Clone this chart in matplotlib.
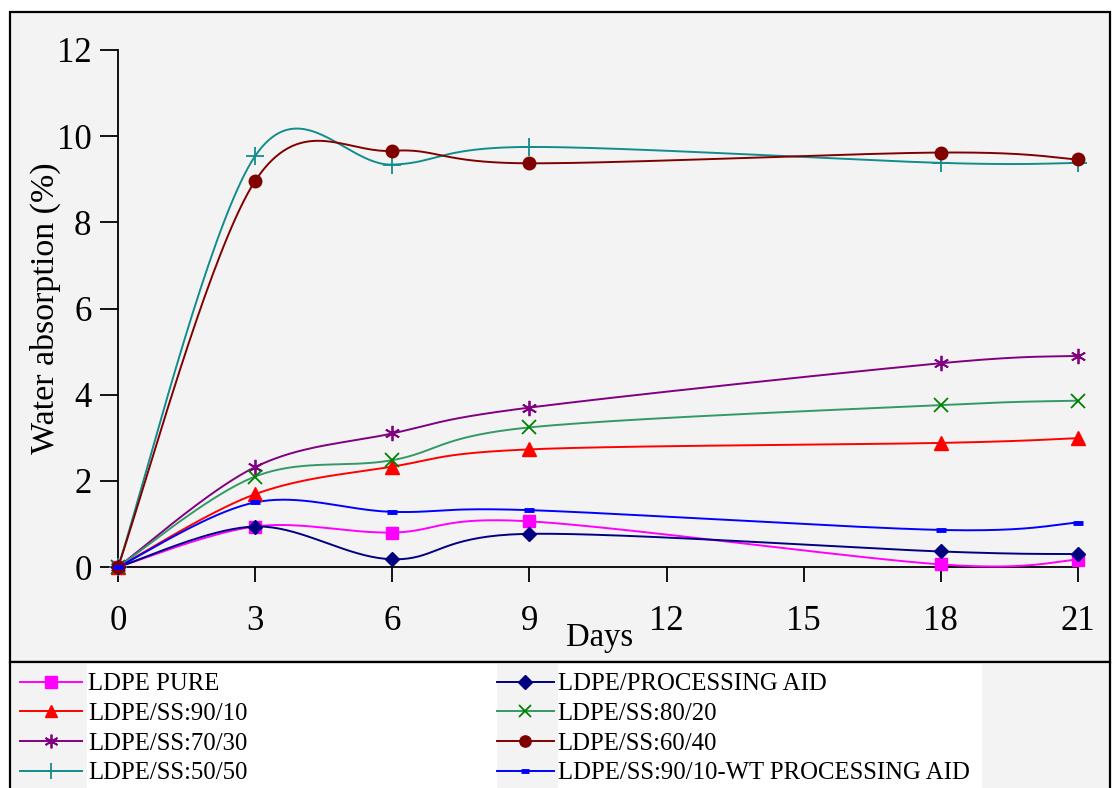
import numpy as np
import matplotlib
matplotlib.use("Agg")
import matplotlib.pyplot as plt
from matplotlib.patches import Rectangle
from matplotlib.lines import Line2D

# ---------------- data ----------------
days = [0, 3, 6, 9, 18, 21]
x_ticks = [0, 3, 6, 9, 12, 15, 18, 21]
y_ticks = [0, 2, 4, 6, 8, 10, 12]

ldpe_pure = [0.0, 0.94, 0.80, 1.06, 0.06, 0.17]
ss_90_10 = [0.0, 1.69, 2.33, 2.73, 2.88, 2.99]
ss_70_30 = [0.0, 2.32, 3.10, 3.70, 4.73, 4.90]
ss_50_50 = [0.0, 9.54, 9.34, 9.75, 9.38, 9.38]
proc_aid = [0.0, 0.94, 0.18, 0.77, 0.36, 0.30]
ss_80_20 = [0.0, 2.10, 2.48, 3.24, 3.76, 3.86]
ss_60_40 = [0.0, 8.96, 9.66, 9.37, 9.62, 9.46]
ss_90_10_wt = [0.0, 1.50, 1.28, 1.32, 0.86, 1.03]

labels = ["LDPE PURE", "LDPE/SS:90/10", "LDPE/SS:70/30", "LDPE/SS:50/50",
          "LDPE/PROCESSING AID", "LDPE/SS:80/20", "LDPE/SS:60/40",
          "LDPE/SS:90/10-WT PROCESSING AID"]
series = [ldpe_pure, ss_90_10, ss_70_30, ss_50_50,
          proc_aid, ss_80_20, ss_60_40, ss_90_10_wt]

# ---------------- style ----------------
W, H = 1112, 788
SERIF = "Liberation Serif"
styles = [
    dict(color="#ff00ff", marker="s", ms=9, mfc="#ff00ff", mec="#ff00ff"),
    dict(color="#ff0000", marker="^", ms=10, mfc="#ff0000", mec="#ff0000"),
    dict(color="#800080", marker=(6, 2, 0), ms=11, mfc="#800080", mec="#800080", mew=1.3),
    dict(color="#128c8c", marker="+", ms=13, mfc="#128c8c", mec="#128c8c", mew=1.3),
    dict(color="#000080", marker="D", ms=7.5, mfc="#000080", mec="#000080"),
    dict(color="#339966", marker="x", ms=10, mfc="#008000", mec="#008000", mew=1.3),
    dict(color="#800000", marker="o", ms=9, mfc="#800000", mec="#800000"),
    dict(color="#0000ff", marker="_", ms=7, mfc="#0000ff", mec="#0000ff", mew=3.5),
]

def fx(px):
    return px / W

def fy(py):
    return 1 - py / H

fig = plt.figure(figsize=(W / 100, H / 100), dpi=100, facecolor="white")

# chart area frame
fig.patches.append(Rectangle((fx(10), fy(662)), fx(1110) - fx(10), fy(12) - fy(662),
                             transform=fig.transFigure, facecolor="#f3f3f3",
                             edgecolor="black", lw=1.6, zorder=-3))
# legend area frame
fig.patches.append(Rectangle((fx(10), fy(800)), fx(1110) - fx(10), fy(662) - fy(800),
                             transform=fig.transFigure, facecolor="#f3f3f3",
                             edgecolor="black", lw=1.6, zorder=-3))
# white backgrounds behind legend texts
fig.patches.append(Rectangle((fx(87), fy(788)), fx(497) - fx(87), fy(664) - fy(788),
                             transform=fig.transFigure, facecolor="white",
                             edgecolor="none", zorder=-2))
fig.patches.append(Rectangle((fx(558), fy(788)), fx(982) - fx(558), fy(664) - fy(788),
                             transform=fig.transFigure, facecolor="white",
                             edgecolor="none", zorder=-2))

ax = fig.add_axes([fx(118), fy(567), fx(1078) - fx(118), fy(50) - fy(567)])
ax.set_zorder(2)
ax.patch.set_visible(False)
ax.set_xlim(0, 21)
ax.set_ylim(0, 12)
ax.set_xticks(x_ticks)
ax.set_yticks(y_ticks)
for s in ["top", "right"]:
    ax.spines[s].set_visible(False)
for s in ["left", "bottom"]:
    ax.spines[s].set_linewidth(1.3)
    ax.spines[s].set_color("black")
ax.tick_params(axis="y", direction="out", length=13, width=1.3, pad=6,
               labelsize=25)
ax.tick_params(axis="x", direction="out", length=11, width=1.3, pad=16,
               labelsize=25)
for lab in ax.get_xticklabels() + ax.get_yticklabels():
    lab.set_fontfamily(SERIF)


def smooth(ax, x, y, n=40):
    pts = ax.transData.transform(np.column_stack([x, y]))
    P = np.vstack([pts[0], pts, pts[-1]])
    out = []
    t = np.linspace(0, 1, n)[:, None]
    for i in range(1, len(P) - 2):
        p0, p1, p2, p3 = P[i - 1], P[i], P[i + 1], P[i + 2]
        c1 = p1 + (p2 - p0) / 6.0
        c2 = p2 - (p3 - p1) / 6.0
        seg = ((1 - t) ** 3) * p1 + 3 * ((1 - t) ** 2) * t * c1 + \
            3 * (1 - t) * (t ** 2) * c2 + (t ** 3) * p2
        out.append(seg if i == 1 else seg[1:])
    return ax.transData.inverted().transform(np.vstack(out))


handles = []
for vals, st, lab in zip(series, styles, labels):
    curve = smooth(ax, days, vals)
    ax.plot(curve[:, 0], curve[:, 1], color=st["color"], lw=1.4, zorder=3,
            clip_on=False)
    ax.plot(days, vals, linestyle="none", marker=st["marker"], ms=st["ms"],
            mfc=st["mfc"], mec=st["mec"], mew=st.get("mew", 1.0), zorder=4,
            clip_on=False)
    handles.append(Line2D([0], [0], color=st["color"], lw=1.4, marker=st["marker"],
                          ms=st["ms"] * 0.9, mfc=st["mfc"], mec=st["mec"],
                          mew=st.get("mew", 1.0)))

ax.text((600 - 118) / 960, -0.137, "Days", transform=ax.transAxes,
        ha="center", va="center", fontsize=23.5, fontfamily=SERIF)
fig.text(fx(45), fy(308), "Water absorption (%)", rotation=90,
         ha="center", va="center", fontsize=24.5, fontfamily=SERIF)

prop = dict(family=SERIF, size=17.8)
leg1 = fig.legend(handles[:4], labels[:4], loc="upper left",
                  bbox_to_anchor=(fx(20), fy(673)), frameon=False, prop=prop,
                  handlelength=2.5, handletextpad=0.25, labelspacing=0.3,
                  borderpad=0, borderaxespad=0)
leg2 = fig.legend(handles[4:], labels[4:], loc="upper left",
                  bbox_to_anchor=(fx(497), fy(673)), frameon=False, prop=prop,
                  handlelength=2.3, handletextpad=0.15, labelspacing=0.3,
                  borderpad=0, borderaxespad=0)

fig.savefig("out.png", dpi=100, facecolor="white")
